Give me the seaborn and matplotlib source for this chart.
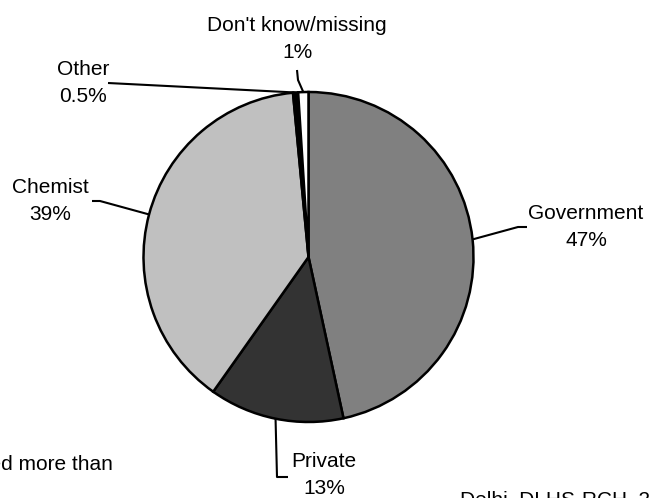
import numpy as np
import matplotlib
matplotlib.use("Agg")
import matplotlib.pyplot as plt
import seaborn as sns

# slice data (clockwise from 12 o'clock)
sources = ["Government", "Private", "Chemist", "Other", "Don't know/missing"]
shares = [46.6, 13.2, 38.7, 0.5, 1.0]
fills = ["#808080", "#333333", "#c0c0c0", "#000000", "#ffffff"]

sns.set_theme(style="white")
plt.rcParams['font.family'] = ['Liberation Sans', 'DejaVu Sans']
plt.rcParams['text.color'] = 'black'

W, H = 649, 498
CX, CY, R = 308.5, 257.0, 165.0   # pie centre / radius in pixels


def px(x, y):
    # pixel (from top-left) -> data coords of the pie axes
    return (x - CX) / R, (CY - y) / R


fig = plt.figure(figsize=(W / 100, H / 100), dpi=100)
ax = fig.add_axes([(CX - R) / W, (H - CY - R) / H, 2 * R / W, 2 * R / H])

wedges, _ = ax.pie(shares, colors=sns.color_palette(fills), startangle=90,
                   counterclock=False, radius=1,
                   wedgeprops=dict(edgecolor="black", linewidth=1.8))
ax.set_aspect("auto")
ax.set_xlim(-1, 1)
ax.set_ylim(-1, 1)
ax.axis("off")


def pct(v):
    return f"{round(v)}%" if v >= 1 else f"{v:g}%"


# label block centre, then the leader path (elbow points) in pixels
label_pos = [(586, 227), (324, 475), (50, 201), (83, 83), (297, 39)]
leader_pts = [
    [(518, 227), (527, 227)],
    [(277, 477), (288, 477)],
    [(100, 201), (92, 201)],
    [(108, 83)],
    [(298, 80), (297, 70)],
]

for w, name, v, (lx, ly), pts in zip(wedges, sources, shares, label_pos, leader_pts):
    mid = np.deg2rad((w.theta1 + w.theta2) / 2)
    xs = [np.cos(mid)] + [px(*p)[0] for p in pts]
    ys = [np.sin(mid)] + [px(*p)[1] for p in pts]
    ax.plot(xs, ys, color="black", lw=1.5, clip_on=False, solid_capstyle="butt")
    tx, ty = px(lx, ly)
    ax.text(tx, ty, f"{name}\n{pct(v)}", ha="center", va="center",
            multialignment="center", fontsize=15, linespacing=1.55,
            color="black")

# clipped footnote / source text at the bottom edge
fig.text(113 / W, 1 - 465 / H, "Children who received more than",
         ha="right", va="center", fontsize=15, color="black")
fig.text(460 / W, 1 - 490 / H, "Delhi, DLHS-RCH, 2007-08",
         ha="left", va="top", fontsize=15, color="black")

fig.savefig("out.png", dpi=100)
